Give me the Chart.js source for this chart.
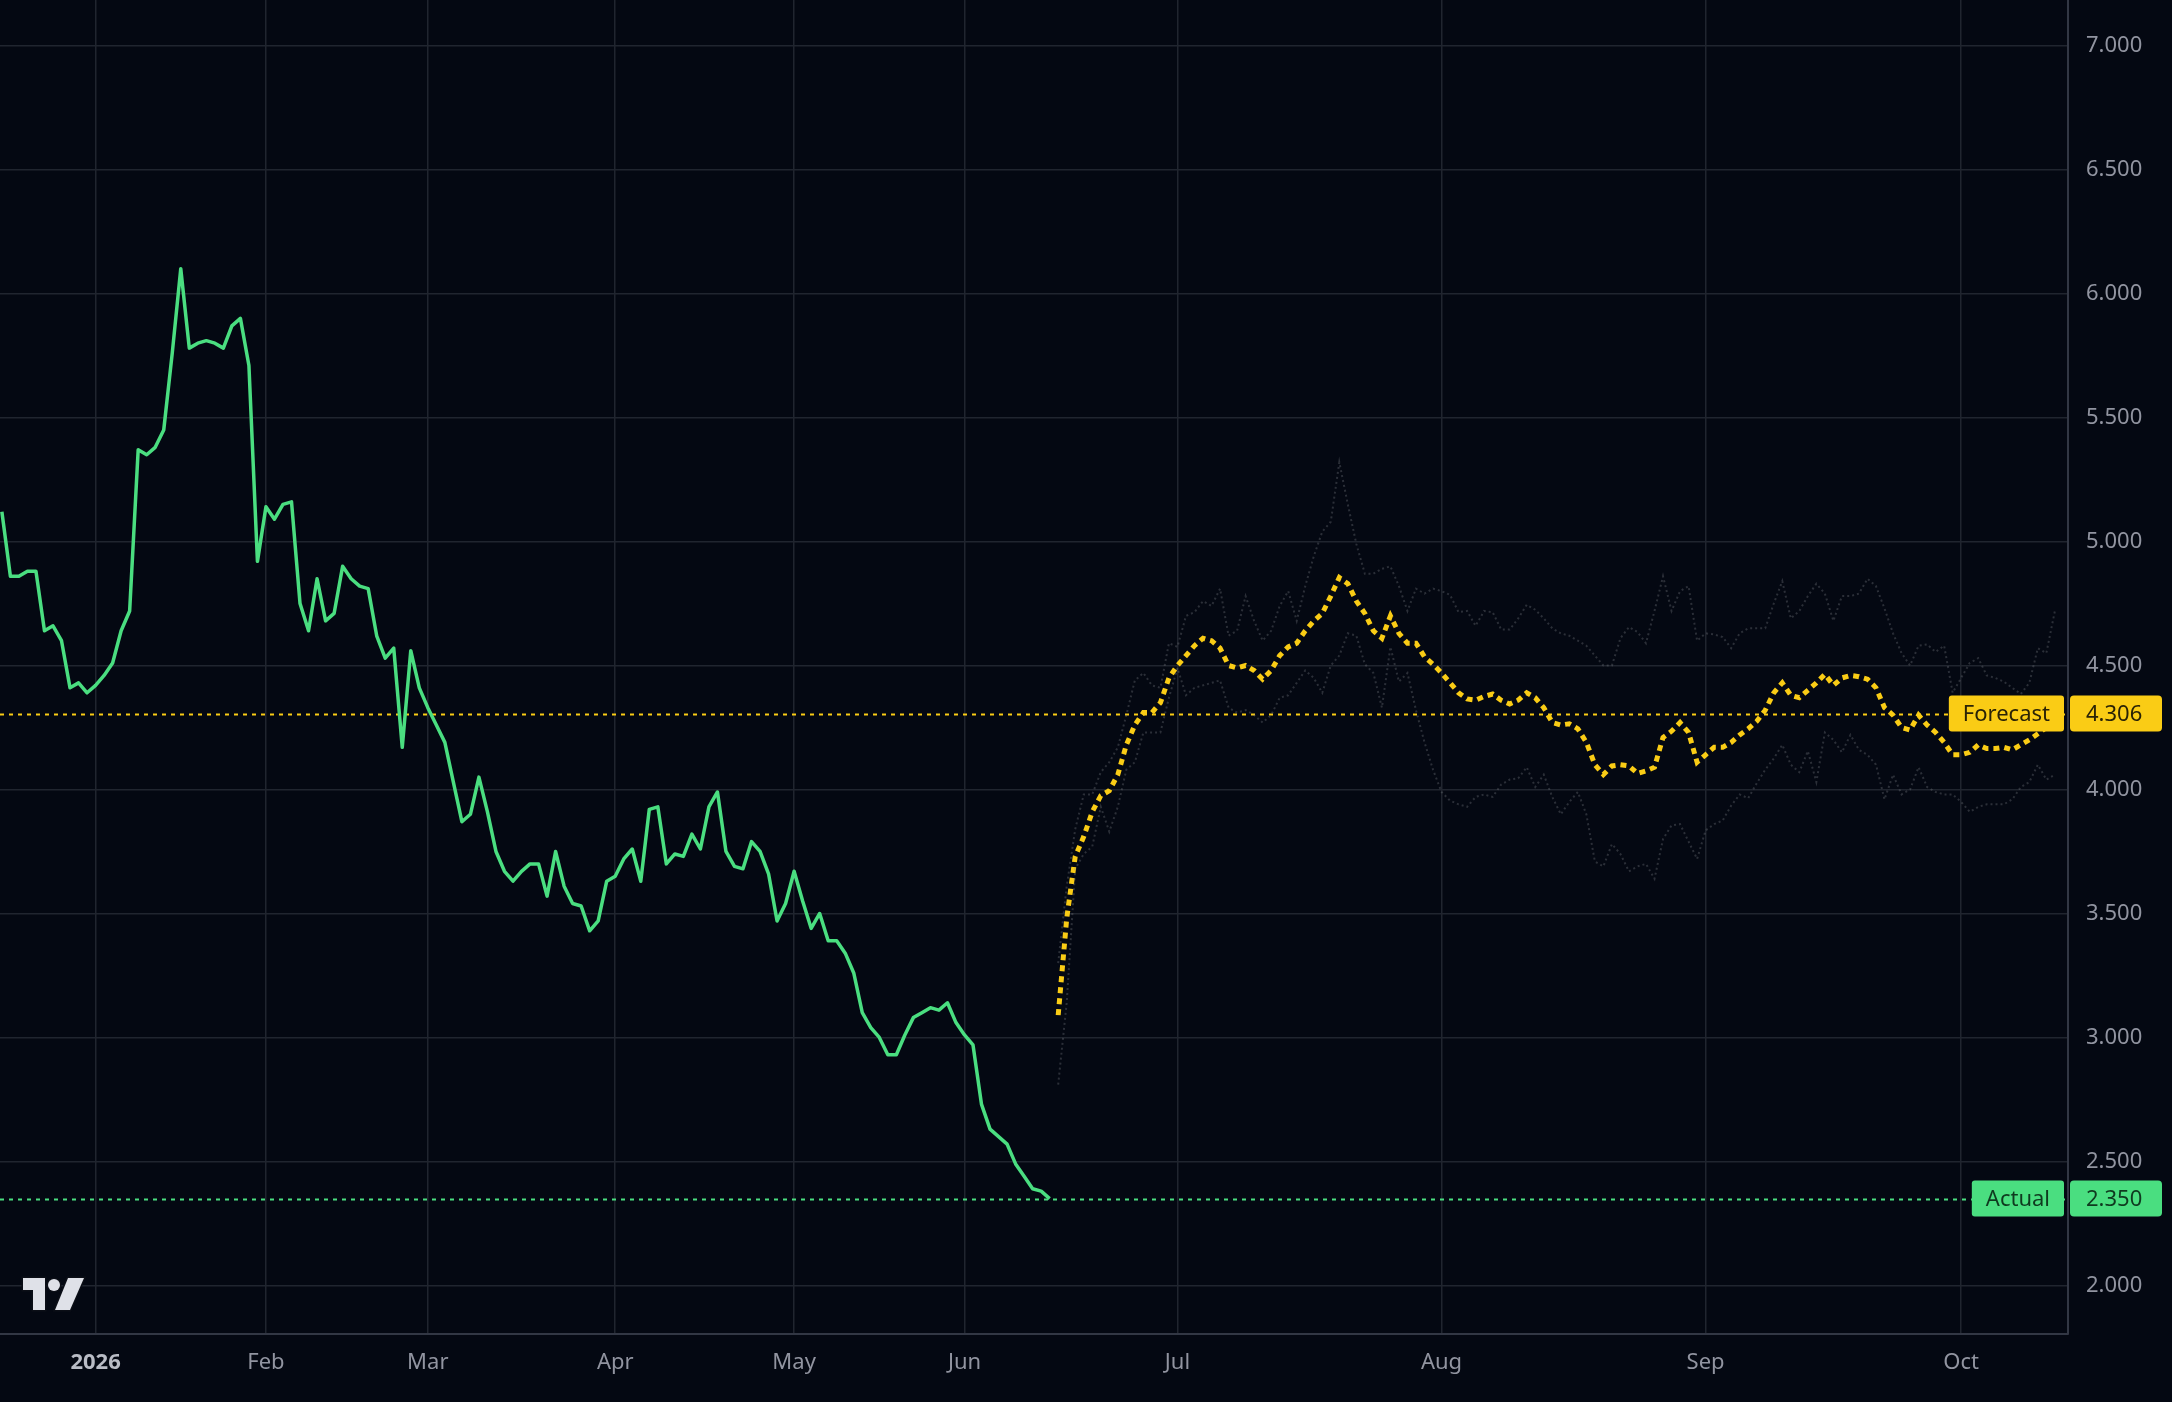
<!DOCTYPE html>
<html>
<head>
<meta charset="utf-8">
<title>Actual vs Forecast</title>
<script src="https://cdn.jsdelivr.net/npm/chart.js@4.4.1/dist/chart.umd.min.js"></script>
<style>
  html, body { margin: 0; padding: 0; background: #040812; }
  #wrap { width: 2172px; height: 1402px; position: relative; }
</style>
</head>
<body>
<div id="wrap"><canvas id="chart"></canvas></div>
<script>
// --- data (x = bar index, one bar per trading day / forecast day) ---
const monthLabels = ['2026', 'Feb', 'Mar', 'Apr', 'May', 'Jun', 'Jul', 'Aug', 'Sep', 'Oct'];
const monthIdx    = [11, 31, 50, 72, 93, 113, 138, 169, 200, 230];
const yTicks      = [2.0, 2.5, 3.0, 3.5, 4.0, 4.5, 5.0, 5.5, 6.0, 6.5, 7.0];

const actual = [
  5.12, 4.86, 4.86, 4.88, 4.88, 4.64, 4.66, 4.60, 4.41, 4.43,
  4.39, 4.42, 4.46, 4.51, 4.64, 4.72, 5.37, 5.35, 5.38, 5.45,
  5.76, 6.10, 5.78, 5.80, 5.81, 5.80, 5.78, 5.87, 5.90, 5.71,
  4.92, 5.14, 5.09, 5.15, 5.16, 4.75, 4.64, 4.85, 4.68, 4.71,
  4.90, 4.85, 4.82, 4.81, 4.62, 4.53, 4.57, 4.17, 4.56, 4.41,
  4.33, 4.26, 4.19, 4.03, 3.87, 3.90, 4.05, 3.91, 3.75, 3.67,
  3.63, 3.67, 3.70, 3.70, 3.57, 3.75, 3.61, 3.54, 3.53, 3.43,
  3.47, 3.63, 3.65, 3.72, 3.76, 3.63, 3.92, 3.93, 3.70, 3.74,
  3.73, 3.82, 3.76, 3.93, 3.99, 3.75, 3.69, 3.68, 3.79, 3.75,
  3.66, 3.47, 3.54, 3.67, 3.55, 3.44, 3.50, 3.39, 3.39, 3.34,
  3.26, 3.10, 3.04, 3.00, 2.93, 2.93, 3.01, 3.08, 3.10, 3.12,
  3.11, 3.14, 3.06, 3.01, 2.97, 2.73, 2.63, 2.60, 2.57, 2.49,
  2.44, 2.39, 2.38, 2.35
];

const forecastStart = 124;
const forecast = [
  3.09, 3.48, 3.73, 3.81, 3.91, 3.975, 3.995, 4.06, 4.18, 4.26,
  4.31, 4.31, 4.35, 4.45, 4.50, 4.54, 4.58, 4.61, 4.60, 4.57,
  4.50, 4.49, 4.50, 4.48, 4.445, 4.48, 4.54, 4.575, 4.59, 4.64,
  4.68, 4.71, 4.78, 4.855, 4.83, 4.76, 4.71, 4.64, 4.61, 4.70,
  4.63, 4.59, 4.59, 4.535, 4.505, 4.47, 4.43, 4.39, 4.365, 4.36,
  4.375, 4.385, 4.36, 4.345, 4.36, 4.39, 4.37, 4.33, 4.27, 4.26,
  4.265, 4.245, 4.19, 4.10, 4.06, 4.095, 4.10, 4.095, 4.065, 4.075,
  4.09, 4.21, 4.235, 4.27, 4.23, 4.11, 4.14, 4.17, 4.17, 4.19,
  4.22, 4.245, 4.275, 4.32, 4.39, 4.43, 4.38, 4.37, 4.40, 4.43,
  4.465, 4.42, 4.45, 4.46, 4.455, 4.445, 4.41, 4.33, 4.30, 4.25,
  4.24, 4.30, 4.26, 4.23, 4.19, 4.14, 4.14, 4.15, 4.18, 4.165,
  4.165, 4.17, 4.16, 4.18, 4.20, 4.225, 4.25, 4.28
];
const upperBand = [
  3.30, 3.61, 3.84, 3.98, 3.98, 4.07, 4.11, 4.17, 4.30, 4.44,
  4.47, 4.42, 4.41, 4.59, 4.575, 4.70, 4.715, 4.76, 4.74, 4.81,
  4.62, 4.64, 4.78, 4.68, 4.60, 4.64, 4.74, 4.80, 4.68, 4.82,
  4.94, 5.04, 5.08, 5.32, 5.15, 4.99, 4.87, 4.87, 4.89, 4.90,
  4.82, 4.72, 4.81, 4.79, 4.81, 4.80, 4.785, 4.715, 4.72, 4.66,
  4.72, 4.715, 4.645, 4.645, 4.69, 4.745, 4.725, 4.69, 4.65, 4.63,
  4.62, 4.60, 4.58, 4.54, 4.50, 4.50, 4.61, 4.655, 4.635, 4.59,
  4.72, 4.86, 4.72, 4.80, 4.82, 4.60, 4.63, 4.625, 4.615, 4.57,
  4.63, 4.65, 4.65, 4.65, 4.75, 4.84, 4.69, 4.72, 4.78, 4.83,
  4.79, 4.68, 4.78, 4.78, 4.79, 4.85, 4.82, 4.73, 4.63, 4.55,
  4.50, 4.58, 4.585, 4.555, 4.58, 4.39, 4.45, 4.51, 4.53, 4.46,
  4.45, 4.435, 4.41, 4.385, 4.43, 4.57, 4.55, 4.72
];
const lowerBand = [
  2.81, 3.14, 3.68, 3.74, 3.77, 3.93, 3.83, 3.93, 4.08, 4.11,
  4.23, 4.23, 4.23, 4.37, 4.49, 4.38, 4.41, 4.42, 4.43, 4.44,
  4.33, 4.31, 4.32, 4.30, 4.27, 4.30, 4.37, 4.38, 4.43, 4.48,
  4.45, 4.39, 4.50, 4.54, 4.63, 4.62, 4.505, 4.47, 4.33, 4.575,
  4.435, 4.47, 4.32, 4.19, 4.08, 3.99, 3.955, 3.94, 3.93, 3.97,
  3.98, 3.97, 4.02, 4.04, 4.045, 4.09, 4.01, 4.06, 3.97, 3.90,
  3.95, 3.99, 3.90, 3.71, 3.69, 3.78, 3.74, 3.67, 3.69, 3.70,
  3.64, 3.80, 3.855, 3.86, 3.79, 3.72, 3.835, 3.86, 3.875, 3.935,
  3.98, 3.965, 4.025, 4.08, 4.125, 4.18, 4.10, 4.07, 4.155, 4.03,
  4.23, 4.20, 4.15, 4.22, 4.16, 4.14, 4.10, 3.96, 4.06, 3.98,
  4.00, 4.09, 4.01, 3.99, 3.98, 3.98, 3.95, 3.91, 3.93, 3.94,
  3.94, 3.94, 3.96, 4.01, 4.03, 4.10, 4.04, 4.06
];

const forecastLevel = 4.306;
const actualLevel = 2.350;

// --- colours / fonts ---
const GREEN = '#4ade80';
const YELLOW = '#facc15';
const GRID = '#20252f';
const AXIS = '#323744';
const TEXT = '#9194a0';
const FONT = "'Noto Sans', 'Open Sans', sans-serif";

const pts = (arr, start) => arr.map((v, i) => ({ x: start + i, y: v }));

// horizontal dotted level lines under the series
const levelLines = {
  id: 'levelLines',
  beforeDatasetsDraw(chart) {
    const { ctx, chartArea: a, scales: { y } } = chart;
    ctx.save();
    ctx.beginPath();
    ctx.rect(a.left, a.top, a.right - a.left, a.bottom - a.top);
    ctx.clip();
    [[forecastLevel, YELLOW], [actualLevel, GREEN]].forEach(([lv, col]) => {
      const py = Math.round(y.getPixelForValue(lv)) + 0.5;
      ctx.strokeStyle = col;
      ctx.lineWidth = 2;
      ctx.setLineDash([4, 5]);
      ctx.beginPath();
      ctx.moveTo(a.left, py);
      ctx.lineTo(a.right, py);
      ctx.stroke();
    });
    ctx.restore();
  }
};

function roundRect(ctx, x, y, w, h, r) {
  ctx.beginPath();
  ctx.moveTo(x + r, y);
  ctx.lineTo(x + w - r, y);
  ctx.quadraticCurveTo(x + w, y, x + w, y + r);
  ctx.lineTo(x + w, y + h - r);
  ctx.quadraticCurveTo(x + w, y + h, x + w - r, y + h);
  ctx.lineTo(x + r, y + h);
  ctx.quadraticCurveTo(x, y + h, x, y + h - r);
  ctx.lineTo(x, y + r);
  ctx.quadraticCurveTo(x, y, x + r, y);
  ctx.closePath();
}

// name flag + price box on the right axis
const levelTags = {
  id: 'levelTags',
  afterDraw(chart) {
    const { ctx, chartArea: a, scales: { y } } = chart;
    ctx.save();
    ctx.font = `22px ${FONT}`;
    ctx.textBaseline = 'middle';
    [['Forecast', forecastLevel, YELLOW, '#2a2306'], ['Actual', actualLevel, GREEN, '#0f3a1f']].forEach(([name, lv, bg, fg]) => {
      const py = y.getPixelForValue(lv);
      const h = 36;
      const tw = ctx.measureText(name).width;
      const fw = tw + 28;
      ctx.fillStyle = bg;
      roundRect(ctx, a.right - 4 - fw, py - h / 2, fw, h, 3);
      ctx.fill();
      roundRect(ctx, a.right + 2, py - h / 2, 92, h, 4);
      ctx.fill();
      ctx.fillStyle = fg;
      ctx.textAlign = 'center';
      ctx.fillText(name, a.right - 4 - fw / 2, py + 1);
      ctx.textAlign = 'left';
      ctx.fillText(lv.toFixed(3), a.right + 18, py + 1);
    });
    ctx.restore();
  }
};

// small TV mark bottom-left
const logo = {
  id: 'logo',
  afterDraw(chart) {
    const { ctx, chartArea: a } = chart;
    const x0 = a.left + 23, y0 = a.bottom - 56;
    ctx.save();
    ctx.fillStyle = '#dfe1e8';
    ctx.strokeStyle = '#0b0e16';
    ctx.lineWidth = 3;
    ctx.beginPath();
    ctx.moveTo(x0, y0);
    ctx.lineTo(x0 + 22, y0);
    ctx.lineTo(x0 + 22, y0 + 32);
    ctx.lineTo(x0 + 10, y0 + 32);
    ctx.lineTo(x0 + 10, y0 + 12);
    ctx.lineTo(x0, y0 + 12);
    ctx.closePath();
    ctx.stroke();
    ctx.fill();
    ctx.beginPath();
    ctx.arc(x0 + 31, y0 + 7, 6, 0, Math.PI * 2);
    ctx.stroke();
    ctx.fill();
    ctx.beginPath();
    ctx.moveTo(x0 + 45, y0);
    ctx.lineTo(x0 + 61, y0);
    ctx.lineTo(x0 + 47, y0 + 32);
    ctx.lineTo(x0 + 32, y0 + 32);
    ctx.closePath();
    ctx.stroke();
    ctx.fill();
    ctx.restore();
  }
};

new Chart(document.getElementById('chart'), {
  type: 'line',
  data: {
    datasets: [
      {
        data: pts(upperBand, forecastStart),
        borderColor: 'rgba(128,130,136,0.32)',
        borderWidth: 2,
        borderDash: [2, 3],
        pointRadius: 0
      },
      {
        data: pts(lowerBand, forecastStart),
        borderColor: 'rgba(128,130,136,0.32)',
        borderWidth: 2,
        borderDash: [2, 3],
        pointRadius: 0
      },
      {
        data: pts(forecast, forecastStart),
        borderColor: YELLOW,
        borderWidth: 5,
        borderDash: [6, 5],
        pointRadius: 0
      },
      {
        data: pts(actual, 0),
        borderColor: GREEN,
        borderWidth: 3.5,
        borderJoinStyle: 'round',
        pointRadius: 0
      }
    ]
  },
  options: {
    responsive: true,
    maintainAspectRatio: false,
    animation: false,
    layout: { padding: 0 },
    plugins: { legend: { display: false }, tooltip: { enabled: false } },
    scales: {
      x: {
        type: 'linear',
        min: -0.22,
        max: 242.54,
        afterBuildTicks: s => { s.ticks = monthIdx.map(v => ({ value: v })); },
        afterFit: s => { s.height = 68; s.paddingLeft = 0; s.paddingRight = 0; },
        grid: { color: GRID, lineWidth: 1.5, drawTicks: false },
        border: { color: AXIS, width: 2 },
        ticks: {
          autoSkip: false,
          maxRotation: 0,
          padding: 16,
          callback: v => monthLabels[monthIdx.indexOf(v)],
          color: c => (c.tick && c.tick.label === '2026') ? '#b9bcc5' : TEXT,
          font: c => ({ family: FONT, size: 22, weight: (c.tick && c.tick.label === '2026') ? 'bold' : 'normal' })
        }
      },
      y: {
        position: 'right',
        min: 1.804,
        max: 7.184,
        afterBuildTicks: s => { s.ticks = yTicks.map(v => ({ value: v })); },
        afterFit: s => { s.width = 104; s.paddingTop = 0; s.paddingBottom = 0; },
        grid: { color: GRID, lineWidth: 1.5, drawTicks: false },
        border: { color: AXIS, width: 2 },
        ticks: {
          padding: 18,
          color: TEXT,
          font: { family: FONT, size: 22 },
          callback: v => v.toFixed(3)
        }
      }
    }
  },
  plugins: [levelLines, levelTags, logo]
});
</script>
</body>
</html>
